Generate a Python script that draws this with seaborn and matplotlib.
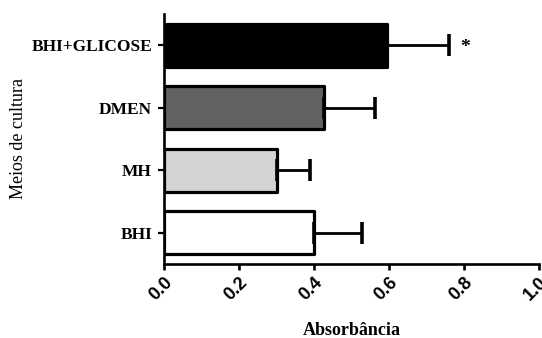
import numpy as np
import pandas as pd
import matplotlib
matplotlib.use("Agg")
import matplotlib.pyplot as plt
import seaborn as sns

# Culture media (top to bottom) with mean absorbance and SD
meios = ["BHI+GLICOSE", "DMEN", "MH", "BHI"]
absorbancia = [0.595, 0.425, 0.301, 0.400]
desvio = [0.165, 0.137, 0.087, 0.127]
cores = ["#000000", "#626262", "#d4d4d4", "#ffffff"]
x_ticks = [0.0, 0.2, 0.4, 0.6, 0.8, 1.0]
x_tick_labels = ["0.0", "0.2", "0.4", "0.6", "0.8", "1.0"]
significativo = ["*", "", "", ""]

sns.set_style("ticks", {"axes.edgecolor": "black", "text.color": "black",
                        "axes.labelcolor": "black", "xtick.color": "black",
                        "ytick.color": "black"})
plt.rcParams["font.family"] = ["Liberation Serif", "DejaVu Serif"]

df = pd.DataFrame({"meio": meios, "abs": absorbancia})

fig = plt.figure(figsize=(5.42, 3.38), dpi=100)
ax = fig.add_axes([0.3035, 0.219, 0.691, 0.7396])

sns.barplot(data=df, x="abs", y="meio", hue="meio", palette=cores,
            orient="h", legend=False, errorbar=None, width=0.69,
            edgecolor="black", linewidth=2.3, ax=ax)
for p in ax.patches:
    p.set_joinstyle("round")

# one-sided SD whiskers
pos = np.arange(len(meios))
ax.errorbar(absorbancia, pos, xerr=[np.zeros(len(desvio)), desvio],
            fmt="none", ecolor="black", elinewidth=2.0, capsize=8,
            capthick=2.6, zorder=1)

for i, s in enumerate(significativo):
    if s:
        ax.annotate(s, xy=(absorbancia[i] + desvio[i], pos[i]),
                    xytext=(11.5, -1.5), textcoords="offset points",
                    ha="center", va="center", fontsize=14,
                    fontweight="bold", color="black")

ax.set_xlim(0, 1.0)
ax.set_ylim(3.5, -0.5)
ax.set_xticks(x_ticks)
ax.set_xticklabels(x_tick_labels, rotation=45, ha="right",
                   rotation_mode="anchor", va="top",
                   family=["Liberation Sans", "DejaVu Sans"],
                   fontweight="bold", fontsize=13, color="black")
for lbl in ax.get_yticklabels():
    lbl.set_fontweight("bold")
    lbl.set_fontsize(12.5)
    lbl.set_color("black")

sns.despine(ax=ax)
for side in ("left", "bottom"):
    ax.spines[side].set_linewidth(1.9)
    ax.spines[side].set_color("black")
ax.tick_params(axis="x", length=4.5, width=1.9, pad=2.5, color="black")
ax.tick_params(axis="y", length=4.5, width=1.6, pad=4.5, color="black")

ax.set_xlabel("Absorbância", fontsize=13, fontweight="bold", color="black")
ax.set_ylabel("Meios de cultura", fontsize=13, color="black")
ax.xaxis.label.set_va("center")
ax.yaxis.label.set_va("center")
ax.xaxis.set_label_coords(0.5, -0.268)
ax.yaxis.set_label_coords(-0.3885, 0.5)

fig.savefig("out.png", dpi=100)
